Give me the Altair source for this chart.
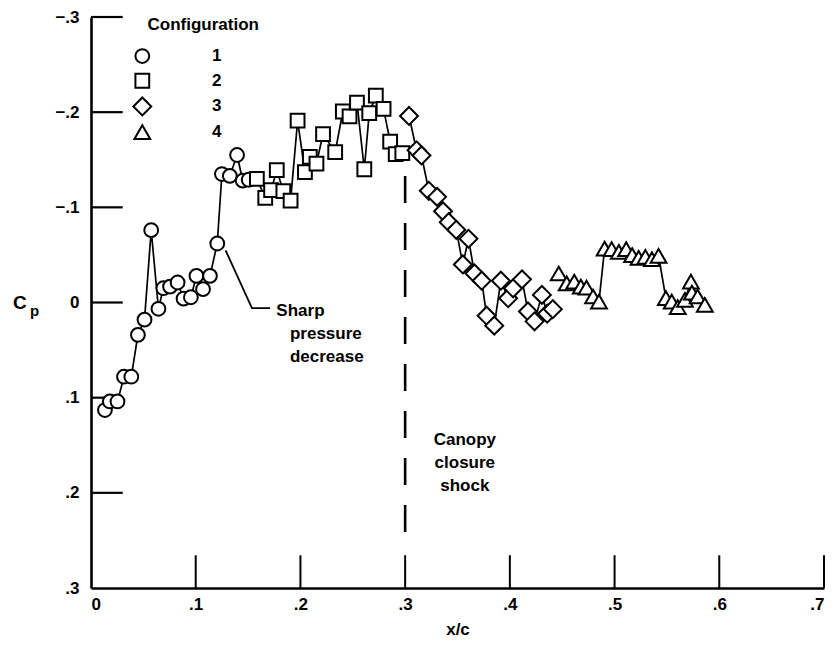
import altair as alt
import pandas as pd

# ---------------- data ----------------
C1_X = [0.0133, 0.018, 0.0253, 0.0315, 0.0385, 0.0448, 0.0511, 0.0575, 0.0644, 0.0691,
        0.0755, 0.0827, 0.0884, 0.0954, 0.1007, 0.107, 0.1136, 0.1206, 0.125, 0.1326,
        0.1395, 0.1449, 0.1506]
C1_CP = [0.113, 0.104, 0.104, 0.078, 0.078, 0.034, 0.018, -0.076, 0.0066, -0.015,
         -0.0167, -0.021, -0.004, -0.0055, -0.028, -0.014, -0.028, -0.062, -0.135, -0.133,
         -0.155, -0.128, -0.129]

C2_X = [0.1584, 0.1664, 0.172, 0.1774, 0.1837, 0.1906, 0.1973, 0.2043, 0.209, 0.2153,
        0.2216, 0.2332, 0.2405, 0.2469, 0.254, 0.261, 0.2657, 0.272, 0.2794, 0.2857,
        0.291, 0.2973]
C2_CP = [-0.130, -0.110, -0.118, -0.139, -0.117, -0.107, -0.191, -0.137, -0.153, -0.146,
         -0.177, -0.158, -0.2007, -0.1955, -0.210, -0.140, -0.199, -0.2174, -0.2034, -0.169,
         -0.156, -0.157]

C3_X = [0.3037, 0.3109, 0.3156, 0.3226, 0.3305, 0.3362, 0.3416, 0.3488, 0.3551, 0.3605,
        0.3662, 0.3731, 0.3778, 0.3851, 0.3914, 0.3984, 0.4031, 0.4116, 0.4173, 0.4236,
        0.4306, 0.4356, 0.441]
C3_CP = [-0.196, -0.160, -0.1545, -0.1174, -0.111, -0.0958, -0.0844, -0.0764, -0.040, -0.067,
         -0.0305, -0.0229, 0.0139, 0.0243, -0.0229, -0.0045, -0.0149, -0.0243, 0.0094, 0.0198,
         -0.008, 0.0118, 0.007]

C4_X = [0.4467, 0.4543, 0.4615, 0.4678, 0.4732, 0.4795, 0.4851, 0.4905, 0.4972, 0.5041,
        0.5111, 0.5168, 0.523, 0.5294, 0.5357, 0.542, 0.549, 0.5546, 0.5603, 0.5672,
        0.5729, 0.5739, 0.5793, 0.5862]
C4_CP = [-0.0305, -0.020, -0.0219, -0.0167, -0.0156, -0.0063, -0.001, -0.0566, -0.056, -0.0531,
         -0.056, -0.0497, -0.0469, -0.048, -0.0455, -0.049, -0.0045, -0.001, 0.0049, -0.0028,
         -0.0219, -0.0104, -0.0063, 0.0024]

CONFIGS = ["1", "2", "3", "4"]
SHAPES = ["circle", "square", "diamond", "triangle-up"]
SIZES = [190, 190, 320, 250]

X_TICKS = [0.0, 0.1, 0.2, 0.3, 0.4, 0.5, 0.6, 0.7]
Y_TICKS = [-0.3, -0.2, -0.1, 0.0, 0.1, 0.2, 0.3]

# legend block (key) placement in data units
LEGEND_TITLE = "Configuration"
LEGEND_SYM_X = 0.049
LEGEND_LAB_X = 0.120
LEGEND_CP = [-0.259, -0.233, -0.206, -0.179]

# annotation content
SHOCK_X = 0.3
SHOCK_RANGE = [-0.133, 0.242]
LEADER_X = [0.1285, 0.1537, 0.171]
LEADER_CP = [-0.0549, 0.0059, 0.0059]
SHARP_TEXT = ["Sharp", "pressure", "decrease"]
SHARP_X = [0.177, 0.19, 0.19]
SHARP_CP = [0.009, 0.033, 0.057]
CANOPY_TEXT = ["Canopy", "closure", "shock"]
CANOPY_X = [0.357, 0.357, 0.357]
CANOPY_CP = [0.145, 0.169, 0.193]

FONT = "Liberation Sans"

# ---------------- tables ----------------
rows = []
for cfg, xs, ys in zip(CONFIGS, [C1_X, C2_X, C3_X, C4_X], [C1_CP, C2_CP, C3_CP, C4_CP]):
    for xv, yv in zip(xs, ys):
        rows.append({"x": xv, "cp": yv, "config": cfg})
df = pd.DataFrame(rows)

key_df = pd.DataFrame({"config": CONFIGS, "cp": LEGEND_CP,
                       "x": [LEGEND_SYM_X] * len(CONFIGS),
                       "xl": [LEGEND_LAB_X] * len(CONFIGS)})

ytick_df = pd.DataFrame({"cp": Y_TICKS[:-1], "x": [0.0] * (len(Y_TICKS) - 1),
                         "x2": [0.0303] * (len(Y_TICKS) - 1)})
xtick_df = pd.DataFrame({"x": X_TICKS[1:], "cp": [0.3] * (len(X_TICKS) - 1),
                         "cp2": [0.3 - 0.0344] * (len(X_TICKS) - 1)})
shock_df = pd.DataFrame({"x": [SHOCK_X], "cp": [SHOCK_RANGE[0]], "cp2": [SHOCK_RANGE[1]]})
leader_df = pd.DataFrame({"x": LEADER_X, "cp": LEADER_CP, "i": list(range(len(LEADER_X)))})
sharp_df = pd.DataFrame({"x": SHARP_X, "cp": SHARP_CP, "t": SHARP_TEXT})
canopy_df = pd.DataFrame({"x": CANOPY_X, "cp": CANOPY_CP, "t": CANOPY_TEXT})
conf_df = pd.DataFrame({"x": [0.054], "cp": [-0.2915], "t": [LEGEND_TITLE]})
cp_df = pd.DataFrame({"x": [-0.068], "cp": [0.0], "t": ["C"]})
p_df = pd.DataFrame({"x": [-0.054], "cp": [0.009], "t": ["p"]})

label_expr = "abs(datum.value) < 1e-9 ? '0' : replace(format(datum.value, '.1f'), '0.', '.')"


def X(field="x"):
    return alt.X(f"{field}:Q",
                 scale=alt.Scale(domain=[0, 0.7], nice=False, zero=False),
                 axis=alt.Axis(values=X_TICKS, labelExpr=label_expr, ticks=False, grid=False,
                               domainColor="black", domainWidth=2.6, labelPadding=8,
                               labelFont=FONT, labelFontWeight="bold", labelFontSize=17,
                               labelColor="black", titleFont=FONT, titleFontWeight="bold",
                               titleFontSize=17, titleColor="black", titlePadding=9),
                 title="x/c")


def Y(field="cp"):
    return alt.Y(f"{field}:Q",
                 scale=alt.Scale(domain=[-0.3, 0.3], nice=False, zero=False, reverse=True),
                 axis=alt.Axis(values=Y_TICKS, labelExpr=label_expr, ticks=False, grid=False,
                               domainColor="black", domainWidth=2.6, labelPadding=12,
                               labelFont=FONT, labelFontWeight="bold", labelFontSize=17,
                               labelColor="black"),
                 title=None)


shape_enc = alt.Shape("config:N", scale=alt.Scale(domain=CONFIGS, range=SHAPES), legend=None)
size_enc = alt.Size("config:O", scale=alt.Scale(type="ordinal", domain=CONFIGS, range=SIZES),
                    legend=None)
point_kw = dict(filled=True, fill="white", stroke="black", strokeWidth=2.0, opacity=1)

lines = alt.Chart(df).mark_line(color="black", strokeWidth=1.7).encode(
    x=X(), y=Y(), detail="config:N")

points = alt.Chart(df).mark_point(**point_kw).encode(
    x=X(), y=Y(), shape=shape_enc, size=size_enc)

key_syms = alt.Chart(key_df).mark_point(**point_kw).encode(
    x=X(), y=Y(), shape=shape_enc, size=size_enc)

text_kw = dict(font=FONT, fontWeight="bold", fontSize=17, color="black", baseline="middle")
key_labs = alt.Chart(key_df).mark_text(align="center", **text_kw).encode(
    x=X("xl"), y=Y(), text="config:N")

yticks = alt.Chart(ytick_df).mark_rule(color="black", strokeWidth=2.2).encode(
    x=X(), x2="x2:Q", y=Y())
xticks = alt.Chart(xtick_df).mark_rule(color="black", strokeWidth=2.0).encode(
    x=X(), y=Y(), y2="cp2:Q")
shock = alt.Chart(shock_df).mark_rule(color="black", strokeWidth=2.6,
                                      strokeDash=[27, 20]).encode(x=X(), y=Y(), y2="cp2:Q")
leader = alt.Chart(leader_df).mark_line(color="black", strokeWidth=1.8).encode(
    x=X(), y=Y(), order="i:Q")

sharp = alt.Chart(sharp_df).mark_text(align="left", **text_kw).encode(x=X(), y=Y(), text="t:N")
canopy = alt.Chart(canopy_df).mark_text(align="center", **text_kw).encode(x=X(), y=Y(), text="t:N")
conf = alt.Chart(conf_df).mark_text(align="left", **text_kw).encode(x=X(), y=Y(), text="t:N")
c_lab = alt.Chart(cp_df).mark_text(align="center", font=FONT, fontWeight="bold", fontSize=19,
                                   color="black", baseline="middle").encode(x=X(), y=Y(), text="t:N")
p_lab = alt.Chart(p_df).mark_text(align="center", font=FONT, fontWeight="bold", fontSize=15,
                                  color="black", baseline="middle").encode(x=X(), y=Y(), text="t:N")

chart = alt.layer(
    yticks, xticks, shock, leader, lines, points, key_syms, key_labs,
    sharp, canopy, conf, c_lab, p_lab
).properties(
    width=733, height=571,
    autosize=alt.AutoSizeParams(type="none"),
    padding={"left": 83, "top": 9, "right": 7, "bottom": 50},
    background="white",
).configure_view(strokeWidth=0)

chart.save("out.html", embed_options={"renderer": "svg", "actions": False})
